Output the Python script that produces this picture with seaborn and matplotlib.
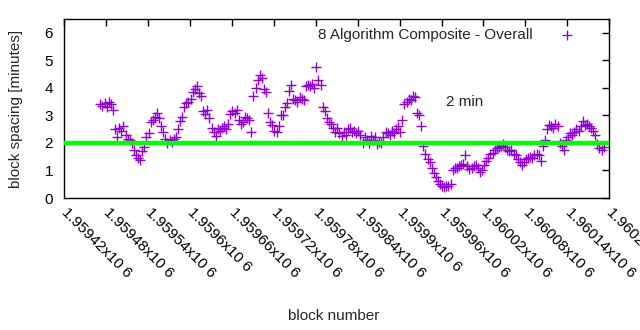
import numpy as np
import pandas as pd
import matplotlib
matplotlib.use("Agg")
import matplotlib.pyplot as plt
import seaborn as sns

# Block spacing (minutes), one sample every 3 blocks
first_block = 1959472
block_step = 3
spacing = [
    3.4, 3.35, 3.45, 3.3, 3.5, 3.4, 3.2, 2.5, 2.2, 2.55,
    2.45, 2.6, 2.3, 2.15, 2.1, 2.0, 1.75, 1.55, 1.45, 1.38,
    1.7, 1.85, 2.2, 2.35, 2.75, 2.85, 2.95, 3.1, 2.9, 2.6,
    2.4, 2.15, 2.0, 2.1, 2.05, 2.15, 2.2, 2.5, 2.8, 2.95,
    3.3, 3.45, 3.5, 3.6, 3.85, 3.95, 4.05, 3.8, 3.7, 3.15,
    3.05, 3.2, 2.9, 2.55, 2.4, 2.25, 2.5, 2.45, 2.55, 2.6,
    2.5, 2.7, 3.05, 3.15, 3.1, 3.2, 2.85, 2.7, 2.75, 2.95,
    2.9, 2.85, 2.4, 3.7, 4.0, 4.3, 4.45, 4.35, 3.95, 3.85,
    3.1, 2.75, 2.65, 2.45, 2.4, 2.6, 3.0, 3.0, 3.3, 3.45,
    3.9, 4.1, 3.6, 3.55, 3.5, 3.65, 3.6, 3.55, 4.05, 4.1,
    4.05, 4.15, 4.0, 4.75, 4.3, 4.1, 3.3, 3.15, 2.9, 2.75,
    2.7, 2.55, 2.4, 2.55, 2.35, 2.25, 2.4, 2.3, 2.5, 2.55,
    2.4, 2.45, 2.35, 2.45, 2.3, 2.0, 2.2, 2.1, 2.0, 2.25,
    2.1, 2.2, 1.95, 2.05, 2.0, 2.2, 2.4, 2.35, 2.3, 2.45,
    2.35, 2.5, 2.6, 2.4, 2.85, 3.4, 3.5, 3.6, 3.55, 3.7,
    3.65, 3.1, 3.0, 2.6, 1.9, 1.6, 1.4, 1.3, 1.1, 0.9,
    0.75, 0.6, 0.5, 0.45, 0.4, 0.45, 0.45, 0.5, 1.0, 1.1,
    1.1, 1.15, 1.2, 1.25, 1.55, 1.15, 1.05, 1.1, 1.15, 1.2,
    1.1, 0.95, 1.0, 1.2, 1.35, 1.45, 1.6, 1.65, 1.75, 1.8,
    1.85, 1.9, 1.95, 1.85, 1.75, 1.7, 1.75, 1.6, 1.55, 1.4,
    1.3, 1.2, 1.3, 1.4, 1.45, 1.5, 1.45, 1.55, 1.6, 1.55,
    1.35, 1.9, 2.1, 2.5, 2.65, 2.6, 2.55, 2.7, 2.6, 2.0,
    1.9, 1.75, 2.1, 2.2, 2.35, 2.3, 2.4, 2.5, 2.45, 2.6,
    2.8, 2.65, 2.7, 2.6, 2.55, 2.45, 2.3, 1.95, 1.8, 1.75,
    1.85,
]
blocks = first_block + block_step * np.arange(len(spacing))

target_minutes = 2
series_label = "8 Algorithm Composite - Overall"
target_label = "2 min"

x_ticks = list(range(1959420, 1960201, 60))
x_tick_labels = [f"{t / 1e6:.6g}x10 6" for t in x_ticks]
y_ticks = list(range(0, 7))

df = pd.DataFrame({"block": blocks, "spacing": spacing})

sns.set_style("white")
plt.rcParams["font.family"] = ["Liberation Sans", "DejaVu Sans"]

fig = plt.figure(figsize=(6.4, 3.3), dpi=100)
ax = fig.add_axes([0.1, 0.4, 0.852, 0.5424])

sns.scatterplot(data=df, x="block", y="spacing", marker="+", color="#9400d3",
                s=45, linewidth=1.0, ax=ax, label=series_label, zorder=2)
ax.axhline(target_minutes, color="#00ff00", linewidth=3.2, zorder=3)

ax.text(1959966, 3.5, target_label, fontsize=11, ha="left", va="center")

ax.set_xlim(x_ticks[0], x_ticks[-1])
ax.set_ylim(0, 6.5)
ax.set_xticks(x_ticks)
ax.set_xticklabels(x_tick_labels, rotation=-45, ha="left", va="center",
                   rotation_mode="anchor", fontsize=11)
ax.set_yticks(y_ticks)
ax.set_yticklabels([str(v) for v in y_ticks], fontsize=11)
ax.tick_params(direction="in", length=5, width=1, top=True, right=True,
               colors="black")
ax.tick_params(axis="x", pad=9)
ax.tick_params(axis="y", pad=8)
for sp in ax.spines.values():
    sp.set_visible(True)
    sp.set_color("black")
    sp.set_linewidth(1)

ax.set_xlabel("block number", fontsize=11)
ax.set_ylabel("block spacing [minutes]", fontsize=11)
ax.xaxis.set_label_coords(0.495, -0.62)
ax.yaxis.set_label_coords(-0.075, 0.5)

leg = ax.legend(loc="upper right", bbox_to_anchor=(0.968, 1.0), frameon=False,
                markerfirst=False, fontsize=11, handletextpad=1.3,
                borderaxespad=0.2)

fig.savefig("out.png", dpi=100)
